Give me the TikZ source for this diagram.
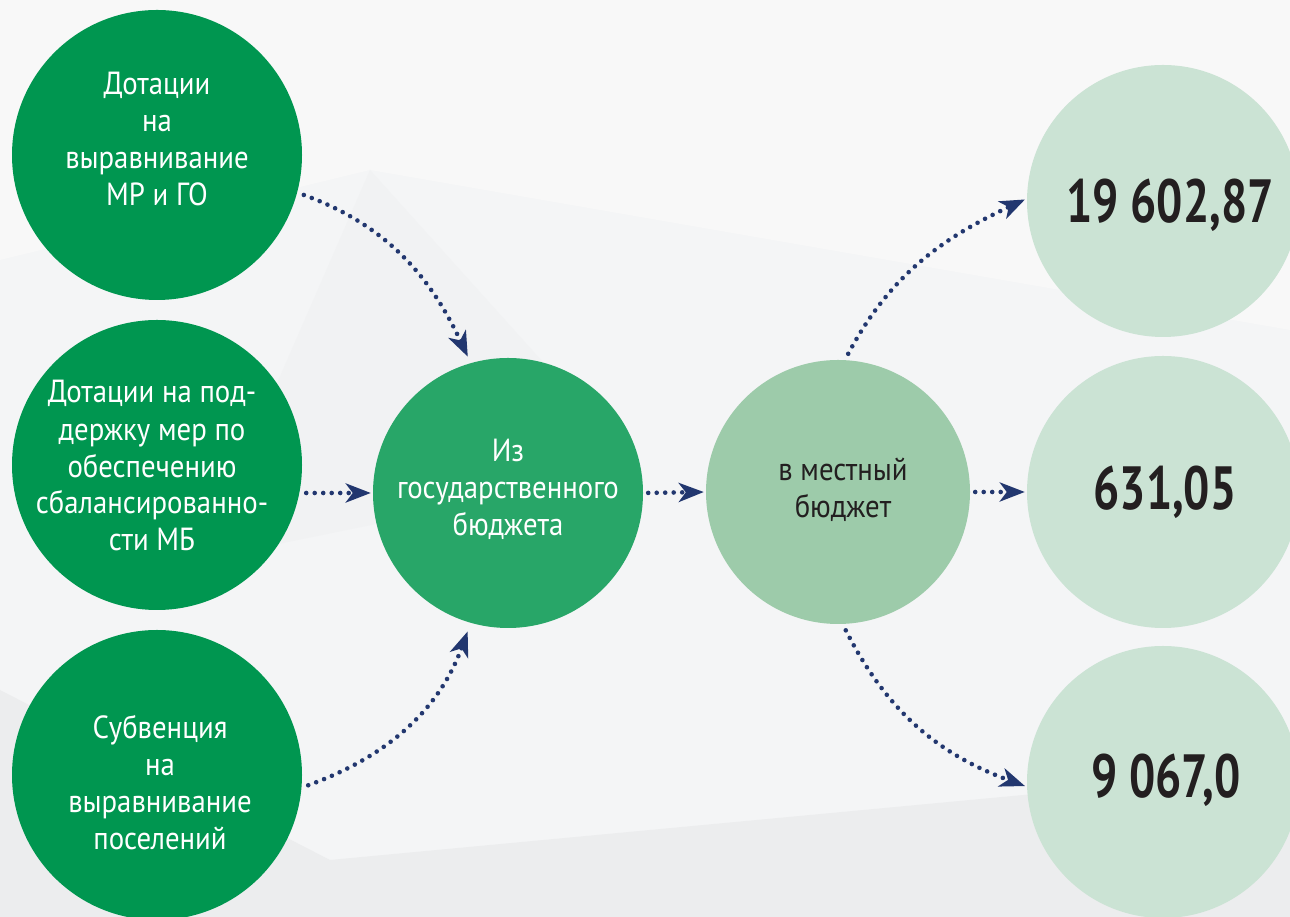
\documentclass[tikz,border=0pt]{standalone}
\usepackage{fontspec}
\setmainfont[FakeStretch=0.9]{PT Sans}
\newfontfamily\numfont[FakeStretch=0.76]{PT Sans}
\usetikzlibrary{arrows.meta}
\definecolor{fon}{HTML}{F4F5F6}
\definecolor{fonsvet}{HTML}{F8F8F8}
\definecolor{fontem}{HTML}{EAEBEC}
\definecolor{zel}{HTML}{009650}
\definecolor{zelsr}{HTML}{28A668}
\definecolor{zelsv}{HTML}{9DCBAA}
\definecolor{zelbl}{HTML}{CBE3D4}
\definecolor{strelka}{HTML}{22376F}
\definecolor{cifra}{HTML}{231F20}
\begin{document}
\begin{tikzpicture}[x=1pt, y=1pt, line join=round,
    krug/.style={circle, inner sep=0pt, minimum size=#1},
    txt/.style={align=center, font=\fontsize{32}{37}\selectfont, text=white},
    num/.style={font=\numfont\bfseries\fontsize{61}{61}\selectfont, text=cifra},
    strel/.style={-{Stealth[length=25pt,width=19pt,inset=7pt]}, draw=strelka,
      line width=4.6pt, line cap=round, dash pattern=on 0pt off 8.5pt}]
  \useasboundingbox (0,0) rectangle (1290,917);
  \clip (0,0) rectangle (1290,917);
  % fon
  \fill[fon] (0,0) rectangle (1290,917);
  \fill[fonsvet] (0,917)--(1290,917)--(1290,587)--(370,747)--(0,657)--cycle;
  \fill[fontem!30!fon] (370,747)--(640,447)--(200,357)--cycle;
  \fill[fontem!80!fon] (0,227)--(330,57)--(1290,147)--(1290,0)--(0,0)--cycle;
  % krugi
  \node[krug=290pt, fill=zel] (dot1) at (157,762) {};
  \node[krug=290pt, fill=zel] (dot2) at (157,452) {};
  \node[krug=290pt, fill=zel] (subv) at (157,142) {};
  \node[krug=270pt, fill=zelsr] (gos) at (508,424) {};
  \node[krug=264pt, fill=zelsv] (mest) at (838,425) {};
  \node[krug=272pt, fill=zelbl] (v1) at (1163,716) {};
  \node[krug=272pt, fill=zelbl] (v2) at (1163,425) {};
  \node[krug=272pt, fill=zelbl] (v3) at (1163,135) {};
  % teksty
  \node[txt] (dot1t) at (157,778) {Дотации\\на\\выравнивание\\МР и ГО};
  \node[txt] (dot2t) at (152,451) {Дотации на под-\\держку мер по\\обеспечению\\сбалансированно-\\сти МБ};
  \node[txt] (subvt) at (160,134) {Субвенция\\на\\выравнивание\\поселений};
  \node[txt] (gost) at (508,428) {Из\\государственного\\бюджета};
  \node[txt, text=cifra] (mestt) at (843,427) {в местный\\бюджет};
  \node[num] (v1t) at (1170,712) {19 602,87};
  \node[num] (v2t) at (1165,425) {631,05};
  \node[num] (v3t) at (1166,137) {9 067,0};
  % strelki
  \draw[strel, shorten <=7pt, shorten >=7pt] (dot1.-15) to[out=-20, in=115] (gos.106);
  \draw[strel, shorten <=4pt, shorten >=2pt] (dot2.east |- gos.west) -- (gos.west);
  \draw[strel, shorten <=7pt, shorten >=9pt] (subv.-5) to[out=20, in=-110] (gos.-106);
  \draw[strel, shorten <=5pt, shorten >=2pt] (gos.east) -- (mest.west);
  \draw[strel, shorten <=7pt, shorten >=2pt] (mest.87) to[out=62, in=-155] (v1.179);
  \draw[strel, shorten <=5pt, shorten >=2pt] (mest.east) -- (v2.west);
  \draw[strel, shorten <=7pt, shorten >=2pt] (mest.-88) to[out=-63, in=160] (v3.182);
\end{tikzpicture}
\end{document}
